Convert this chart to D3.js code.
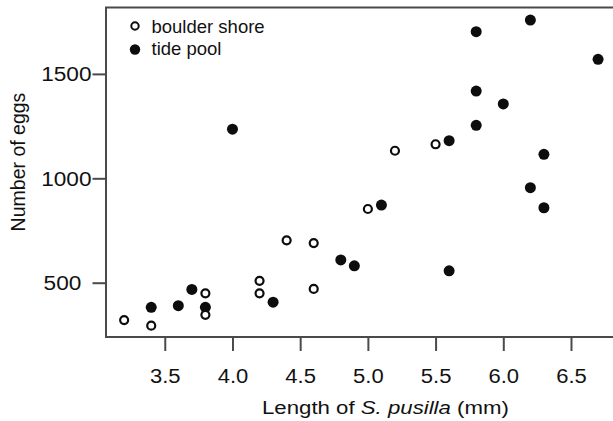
<!DOCTYPE html>
<html>
<head>
<meta charset="utf-8">
<script src="https://cdn.jsdelivr.net/npm/d3@7"></script>
<style>
  html, body { margin: 0; padding: 0; background: #fff; }
  svg { display: block; }
  text { font-family: "Liberation Sans", Arial, Helvetica, sans-serif; fill: #111; }
</style>
</head>
<body>
<svg id="chart" width="613" height="421"></svg>
<script>
// ---- data ----
const boulderLength = [3.2, 3.4, 3.8, 3.8, 4.2, 4.2, 4.4, 4.6, 4.6, 5.0, 5.2, 5.5];
const boulderEggs   = [321, 294, 449, 346, 509, 449, 703, 690, 470, 853, 1132, 1163];

const tideLength = [3.4, 3.6, 3.7, 3.8, 4.0, 4.3, 4.8, 4.9, 5.1, 5.6, 5.6, 5.8, 5.8, 5.8, 6.0, 6.2, 6.2, 6.3, 6.3, 6.7];
const tideEggs   = [382, 390, 468, 382, 1235, 407, 609, 581, 872, 557, 1180, 1254, 1418, 1702, 1356, 1758, 955, 1115, 859, 1570];

const xTicks = [3.5, 4.0, 4.5, 5.0, 5.5, 6.0, 6.5];
const yTicks = [500, 1000, 1500];
const legendLabels = ["boulder shore", "tide pool"];
const xTitleParts = ["Length of ", "S. pusilla", " (mm)"];
const yTitle = "Number of eggs";

// ---- layout ----
const svg = d3.select("#chart");
const L = 106, T = 7.5, R = 615, B = 337;
const ink = "#0d0d0d";
const frameCol = "#4a4a4a";

const x = d3.scaleLinear().domain([3.066, 6.825]).range([L, R]);
const y = d3.scaleLinear().domain([240, 1818]).range([B, T]);

svg.append("rect").attr("width", 613).attr("height", 421).attr("fill", "#fff");

// frame
svg.append("rect")
  .attr("x", L).attr("y", T).attr("width", R - L).attr("height", B - T)
  .attr("fill", "none").attr("stroke", frameCol).attr("stroke-width", 2);

// x axis
const gx = svg.append("g").attr("transform", `translate(0,${B})`)
  .call(d3.axisBottom(x).tickValues(xTicks).tickSize(14).tickFormat(d3.format(".1f")));
gx.select(".domain").remove();
gx.selectAll(".tick line").attr("stroke", frameCol).attr("stroke-width", 2);
gx.selectAll(".tick text")
  .attr("y", 46.5).attr("dy", 0)
  .attr("transform", "scale(1.13,1)")
  .style("font-size", "19.5px").style("font-family", "Liberation Sans, Arial, sans-serif")
  .attr("fill", "#111");

// y axis
const gy = svg.append("g").attr("transform", `translate(${L},0)`)
  .call(d3.axisLeft(y).tickValues(yTicks).tickSize(13.5).tickFormat(d3.format("d")));
gy.select(".domain").remove();
gy.selectAll(".tick line").attr("stroke", frameCol).attr("stroke-width", 2);
gy.selectAll(".tick text")
  .attr("x", -12.5).attr("dy", "0.35em")
  .attr("dx", d => d < 1000 ? "-0.45em" : 0)
  .attr("transform", "scale(1.16,1)")
  .style("font-size", "19.5px").style("font-family", "Liberation Sans, Arial, sans-serif")
  .attr("fill", "#111");

// axis titles
const xt = svg.append("text")
  .attr("transform", "translate(262,413.5) scale(1.17,1)")
  .attr("text-anchor", "start")
  .style("font-size", "19px");
xt.append("tspan").text(xTitleParts[0]);
xt.append("tspan").style("font-style", "italic").text(xTitleParts[1]);
xt.append("tspan").text(xTitleParts[2]);

svg.append("text")
  .attr("transform", "translate(24.5,162) rotate(-90)")
  .attr("text-anchor", "middle")
  .style("font-size", "19.5px")
  .text(yTitle);

// points: tide pool (filled) then boulder shore (open)
const tide = tideLength.map((v, i) => ({ len: v, eggs: tideEggs[i] }));
const boulder = boulderLength.map((v, i) => ({ len: v, eggs: boulderEggs[i] }));

svg.append("g").selectAll("circle").data(tide).join("circle")
  .attr("cx", d => x(d.len)).attr("cy", d => y(d.eggs))
  .attr("r", 5.5).attr("fill", ink);

svg.append("g").selectAll("circle").data(boulder).join("circle")
  .attr("cx", d => x(d.len)).attr("cy", d => y(d.eggs))
  .attr("r", 4).attr("fill", "#fff").attr("stroke", ink).attr("stroke-width", 2.2);

// legend
const lg = svg.append("g");
lg.append("circle").attr("cx", 135).attr("cy", 26).attr("r", 3.7)
  .attr("fill", "#fff").attr("stroke", ink).attr("stroke-width", 2);
lg.append("circle").attr("cx", 135).attr("cy", 49.5).attr("r", 5.2)
  .attr("fill", ink);
lg.append("text").attr("x", 151.5).attr("y", 33.3).style("font-size", "18.5px").text(legendLabels[0]);
lg.append("text").attr("x", 151.5).attr("y", 54.8).style("font-size", "18.5px").text(legendLabels[1]);
</script>
</body>
</html>
